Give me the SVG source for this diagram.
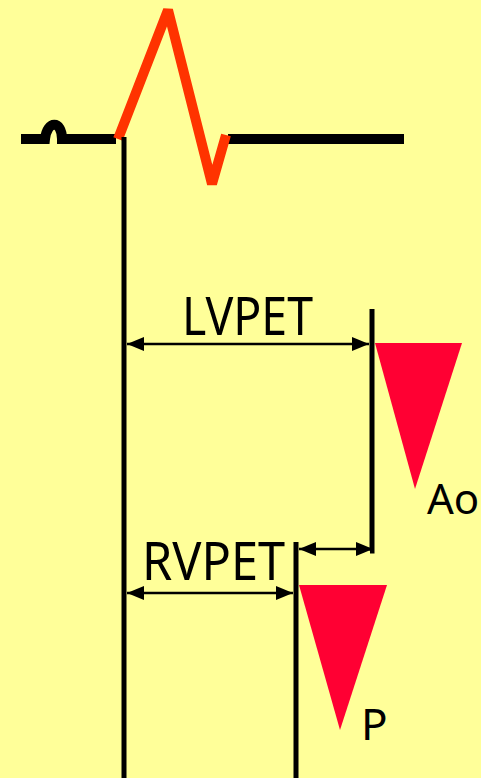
<svg xmlns="http://www.w3.org/2000/svg" width="481" height="778" viewBox="0 0 481 778">
<defs>
<marker id="ah" viewBox="0 0 17 14" refX="17" refY="7" markerWidth="17" markerHeight="14" markerUnits="userSpaceOnUse" orient="auto-start-reverse">
<path d="M0,0 L17,7 L0,14 Z" fill="#000"/>
</marker>
<style>
.lbl{font-family:"Noto Sans","DejaVu Sans",sans-serif;fill:#000}
.dim{stroke:#000;stroke-width:2.5;fill:none;marker-start:url(#ah);marker-end:url(#ah)}
.vline{stroke:#000;stroke-width:5;fill:none}
.base{stroke:#000;stroke-width:10;fill:none}
.valve{fill:#FF0033}
</style>
</defs>
<rect width="481" height="778" fill="#FFFF99"/>
<g id="ecg">
<path class="base" d="M21,139 H45 C47,120 62,120 62,139 H116"/>
<path class="base" d="M228,139 H404"/>
<polyline points="118,139 168,10 212,184 226,135" fill="none" stroke="#FF3300" stroke-width="10" stroke-linejoin="bevel"/>
</g>
<g id="qrs-onset">
<line class="vline" x1="124" y1="137" x2="124" y2="778"/>
</g>
<g id="aortic">
<polyline class="vline" points="372,309 372,551 370,551"/>
<polygon class="valve" points="375,343 462,343 415,489"/>
<text class="lbl" x="427" y="514" font-size="42">Ao</text>
</g>
<g id="pulmonary">
<line class="vline" x1="296" y1="542" x2="296" y2="778"/>
<polygon class="valve" points="299,585 387,585 340,730"/>
<text class="lbl" x="361" y="740" font-size="44">P</text>
</g>
<g id="labels">
<text class="lbl" x="182" y="335" font-size="52" textLength="131" lengthAdjust="spacingAndGlyphs">LVPET</text>
<text class="lbl" x="142" y="580" font-size="52" textLength="143" lengthAdjust="spacingAndGlyphs">RVPET</text>
</g>
<g id="connectors">
<line class="dim" x1="127" y1="344" x2="369" y2="344"/>
<line class="dim" x1="127" y1="593" x2="293" y2="593"/>
<line class="dim" x1="299" y1="549" x2="373" y2="549"/>
</g>
</svg>
